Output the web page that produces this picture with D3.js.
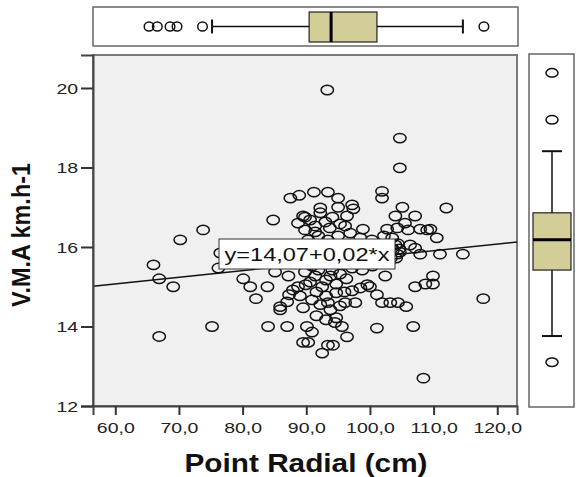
<!DOCTYPE html>
<html>
<head>
<meta charset="utf-8">
<script src="https://cdn.jsdelivr.net/npm/d3@7"></script>
<style>
  html, body { margin: 0; padding: 0; background: #fff; }
  svg { display: block; font-family: "Liberation Sans", Arial, sans-serif; }
</style>
</head>
<body>
<svg id="chart" width="576" height="477"></svg>
<script>
// Point Radial (cm) for each subject
const radial = [
  66.0, 66.9, 69.1, 70.2, 73.8, 75.2, 66.9, 76.5, 76.2, 80.1,
  81.2, 82.1, 83.9, 85.1, 87.2, 84.0, 87.0, 85.9, 85.9, 87.0,
  87.3, 87.9, 88.7, 89.5, 89.5, 87.5, 88.9, 84.8, 89.5, 88.7,
  93.3, 104.7, 104.7, 91.2, 93.4, 95.0, 101.9, 101.9, 112.0, 105.1,
  104.0, 107.1, 92.2, 92.2, 95.0, 97.2, 97.4, 96.4, 94.1, 89.8,
  98.9, 102.7, 105.5, 107.9, 109.5, 90.1, 90.9, 90.3, 94.5, 95.6,
  96.4, 93.4, 94.2, 92.5, 101.1, 106.8, 108.4, 117.8, 107.1, 108.7,
  109.9, 109.9, 102.4, 101.1, 101.9, 103.2, 104.4, 105.7, 97.7, 96.1,
  100.0, 98.5, 99.6, 107.9, 111.0, 114.6, 110.5, 106.3, 107.1, 109.0,
  104.7, 104.3, 106.0,
  89.0, 90.3, 91.9, 93.4, 95.0, 96.9, 98.5, 100.3, 92.7, 94.2,
  96.1, 89.4, 90.9, 92.5, 94.1, 95.6, 97.2, 91.4, 93.1, 94.7,
  96.3, 89.9, 91.6, 93.1, 94.7, 101.6, 102.5, 103.5, 104.1, 102.9,
  100.9, 99.4, 97.8, 98.8, 100.4, 97.2, 92.2, 93.8, 95.3, 91.6,
  93.1, 94.7, 90.6, 103.5, 102.2, 104.4, 89.8, 91.4, 93.7, 96.1,
  102.1, 102.9, 103.6, 104.3, 103.3, 102.4, 104.6, 104.0,
  89.8, 91.9, 93.8, 95.3, 90.6, 92.5, 96.0, 89.0, 90.9, 93.4,
  90.6, 93.0, 95.3, 91.4
];
// V.M.A (km.h-1) for each subject, same order
const vma = [
  15.55, 15.2, 15.0, 16.18, 16.43, 14.0, 13.75, 15.85, 15.47, 15.2,
  15.0, 14.7, 15.0, 15.37, 15.27, 14.0, 14.0, 14.5, 14.42, 14.62,
  14.8, 14.92, 15.0, 14.47, 13.6, 17.23, 17.3, 16.68, 16.78, 16.6,
  19.95, 18.74, 17.99, 17.38, 17.38, 17.23, 17.4, 17.23, 16.98, 17.0,
  16.78, 16.78, 16.98, 16.86, 17.0, 17.06, 16.96, 16.78, 16.75, 16.75,
  16.45, 16.45, 16.6, 16.45, 16.45, 14.0, 13.86, 13.6, 14.1, 14.0,
  13.74, 13.53, 13.53, 13.33, 13.96, 14.0, 12.7, 14.7, 15.0, 15.07,
  15.27, 15.07, 15.27, 14.8, 14.6, 14.6, 14.6, 14.5, 14.6, 14.6,
  15.0, 14.97, 15.05, 15.82, 15.82, 15.82, 16.23, 16.05, 15.97, 16.43,
  15.87, 16.48, 16.43,
  16.05, 16.18, 16.28, 16.18, 16.28, 16.35, 16.23, 16.18, 15.87, 15.77,
  15.92, 15.62, 15.52, 15.62, 15.42, 15.55, 15.47, 15.27, 15.17, 15.07,
  15.2, 15.05, 14.87, 14.77, 14.85, 15.92, 15.77, 15.97, 15.72, 15.62,
  16.02, 15.72, 15.82, 15.42, 15.52, 14.9, 14.55, 14.42, 14.52, 14.27,
  14.17, 14.22, 15.87, 16.23, 16.28, 16.08, 16.43, 16.53, 16.48, 16.53,
  16.0, 15.87, 15.92, 15.82, 15.72, 15.75, 15.95, 16.05,
  15.37, 15.42, 15.27, 15.32, 15.12, 15.0, 14.87, 14.77, 14.67, 14.6,
  16.68, 16.63, 16.58, 16.38
];

// Marginal box plots: [lower whisker, Q1, median, Q3, upper whisker]
const radialBox = [75.2, 90.45, 93.9, 101.1, 114.6];
const radialOutliers = [65.3, 66.6, 68.6, 69.7, 73.7, 117.9];
const vmaBox = [13.76, 15.42, 16.18, 16.86, 18.41];
const vmaOutliers = [20.38, 19.2, 13.1];

// Fitted line y = a + b*x
const fitIntercept = 14.07;
const fitSlope = 0.0167;

// Axis ticks
const xTicks = [60, 70, 80, 90, 100, 110, 120];
const yTicks = [12, 14, 16, 18, 20];

const svg = d3.select("#chart");
const fmtComma = (v, d) => v.toFixed(d).replace(".", ",");
const STRETCH = 1.3;

// Plot area geometry
const P = { left: 93, right: 517, top: 55, bottom: 406 };

const x = d3.scaleLinear().domain([56.5, 123.1]).range([P.left, P.right]);
const y = d3.scaleLinear().domain([12, 20.83]).range([P.bottom, P.top]);

// Plot background and frame
svg.append("rect")
  .attr("x", P.left).attr("y", P.top)
  .attr("width", P.right - P.left).attr("height", P.bottom - P.top)
  .attr("fill", "#f0f0f0")
  .attr("stroke", "#7a7a7a").attr("stroke-width", 2);

// Clip for marks in the plot
svg.append("clipPath").attr("id", "plotClip")
  .append("rect")
  .attr("x", P.left).attr("y", P.top)
  .attr("width", P.right - P.left).attr("height", P.bottom - P.top);

const plot = svg.append("g").attr("clip-path", "url(#plotClip)");

// Scatter points
plot.append("g")
  .selectAll("ellipse")
  .data(d3.range(radial.length))
  .join("ellipse")
  .attr("cx", i => x(radial[i]))
  .attr("cy", i => y(vma[i]))
  .attr("rx", 6.2)
  .attr("ry", 4.7)
  .attr("fill", "none")
  .attr("stroke", "#111")
  .attr("stroke-width", 1.5);

// Fitted line
const [x0, x1] = x.domain();
plot.append("line")
  .attr("x1", x(x0)).attr("y1", y(fitIntercept + fitSlope * x0))
  .attr("x2", x(x1)).attr("y2", y(fitIntercept + fitSlope * x1))
  .attr("stroke", "#111").attr("stroke-width", 1.4);

// Equation label
const eqText = "y=" + fmtComma(fitIntercept, 2) + "+" + fmtComma(fitSlope, 2) + "*x";
svg.append("rect")
  .attr("x", 219).attr("y", 239).attr("width", 176).attr("height", 30)
  .attr("fill", "#fff").attr("stroke", "#333").attr("stroke-width", 1);
svg.append("text")
  .attr("x", 307).attr("y", 260.5)
  .attr("text-anchor", "middle")
  .attr("font-size", 18)
  .attr("fill", "#111")
  .attr("textLength", 165)
  .attr("lengthAdjust", "spacingAndGlyphs")
  .text(eqText);

// Axes
const xAxis = svg.append("g")
  .attr("transform", `translate(0,${P.bottom})`)
  .call(d3.axisBottom(x).tickValues(xTicks).tickSize(9).tickPadding(6)
    .tickFormat(d => fmtComma(d, 1)));
const yAxis = svg.append("g")
  .attr("transform", `translate(${P.left},0)`)
  .call(d3.axisLeft(y).tickValues(yTicks).tickSize(12).tickFormat(d => d));

[xAxis, yAxis].forEach(g => {
  g.select(".domain").attr("stroke", "#444").attr("stroke-width", 2);
  g.selectAll(".tick line").attr("stroke", "#333").attr("stroke-width", 2);
  g.selectAll(".tick text")
    .attr("font-family", "Liberation Sans, Arial, sans-serif")
    .attr("font-size", 15).attr("fill", "#222");
});
xAxis.selectAll(".tick text")
  .attr("dy", null).attr("y", 27)
  .attr("transform", `scale(${STRETCH},1)`);
yAxis.selectAll(".tick text")
  .attr("x", -11.5).attr("dy", "0.36em")
  .attr("transform", `scale(${STRETCH},1)`);

// Axis titles
svg.append("text")
  .attr("x", 306).attr("y", 472)
  .attr("text-anchor", "middle")
  .attr("font-size", 26).attr("font-weight", "bold").attr("fill", "#111")
  .attr("textLength", 243).attr("lengthAdjust", "spacingAndGlyphs")
  .text("Point Radial (cm)");
svg.append("text")
  .attr("transform", "translate(30,235) rotate(-90)")
  .attr("text-anchor", "middle")
  .attr("font-size", 25).attr("font-weight", "bold").attr("fill", "#111")
  .attr("textLength", 144).attr("lengthAdjust", "spacingAndGlyphs")
  .text("V.M.A km.h-1");

// Top marginal box plot (Point Radial)
const boxFill = "#d3ce97";
const topPanel = { x0: 93, x1: 518, y0: 7, y1: 46 };
const topCy = 26.5;
const tg = svg.append("g");
tg.append("rect")
  .attr("x", topPanel.x0).attr("y", topPanel.y0)
  .attr("width", topPanel.x1 - topPanel.x0).attr("height", topPanel.y1 - topPanel.y0)
  .attr("fill", "#fff").attr("stroke", "#666").attr("stroke-width", 1.5);
tg.append("line")
  .attr("x1", x(radialBox[0])).attr("x2", x(radialBox[4]))
  .attr("y1", topCy).attr("y2", topCy)
  .attr("stroke", "#111").attr("stroke-width", 1.5);
[radialBox[0], radialBox[4]].forEach(v => {
  tg.append("line")
    .attr("x1", x(v)).attr("x2", x(v))
    .attr("y1", topCy - 7).attr("y2", topCy + 7)
    .attr("stroke", "#111").attr("stroke-width", 2);
});
tg.append("rect")
  .attr("x", x(radialBox[1])).attr("y", 12)
  .attr("width", x(radialBox[3]) - x(radialBox[1])).attr("height", 30)
  .attr("fill", boxFill).attr("stroke", "#222").attr("stroke-width", 1.2);
tg.append("line")
  .attr("x1", x(radialBox[2])).attr("x2", x(radialBox[2]))
  .attr("y1", 12).attr("y2", 42)
  .attr("stroke", "#000").attr("stroke-width", 3);
tg.selectAll("ellipse.out")
  .data(radialOutliers)
  .join("ellipse")
  .attr("cx", d => x(d)).attr("cy", topCy)
  .attr("rx", 4.8).attr("ry", 4.6)
  .attr("fill", "none").attr("stroke", "#111").attr("stroke-width", 1.5);

// Right marginal box plot (V.M.A)
const sidePanel = { x0: 529, x1: 574, y0: 54, y1: 407 };
const sideCx = 552;
const sg = svg.append("g");
sg.append("rect")
  .attr("x", sidePanel.x0).attr("y", sidePanel.y0)
  .attr("width", sidePanel.x1 - sidePanel.x0).attr("height", sidePanel.y1 - sidePanel.y0)
  .attr("fill", "#fff").attr("stroke", "#666").attr("stroke-width", 1.5);
sg.append("line")
  .attr("x1", sideCx).attr("x2", sideCx)
  .attr("y1", y(vmaBox[0])).attr("y2", y(vmaBox[4]))
  .attr("stroke", "#111").attr("stroke-width", 1.5);
[vmaBox[0], vmaBox[4]].forEach(v => {
  sg.append("line")
    .attr("x1", sideCx - 10).attr("x2", sideCx + 10)
    .attr("y1", y(v)).attr("y2", y(v))
    .attr("stroke", "#111").attr("stroke-width", 2);
});
sg.append("rect")
  .attr("x", 533).attr("y", y(vmaBox[3]))
  .attr("width", 38).attr("height", y(vmaBox[1]) - y(vmaBox[3]))
  .attr("fill", boxFill).attr("stroke", "#222").attr("stroke-width", 1.2);
sg.append("line")
  .attr("x1", 533).attr("x2", 571)
  .attr("y1", y(vmaBox[2])).attr("y2", y(vmaBox[2]))
  .attr("stroke", "#000").attr("stroke-width", 3);
sg.selectAll("ellipse.out")
  .data(vmaOutliers)
  .join("ellipse")
  .attr("cx", sideCx).attr("cy", d => y(d))
  .attr("rx", 6).attr("ry", 4.3)
  .attr("fill", "none").attr("stroke", "#111").attr("stroke-width", 1.5);
</script>
</body>
</html>
